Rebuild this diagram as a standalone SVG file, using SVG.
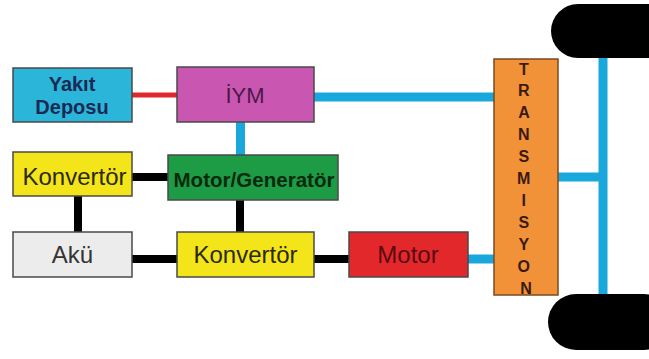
<svg xmlns="http://www.w3.org/2000/svg" width="649" height="359" viewBox="0 0 649 359">
<style>
.box{stroke:#4a4a4a;stroke-width:1.5}
.t{font-family:"Liberation Sans",Arial,sans-serif;text-anchor:middle}
.b{font-weight:bold}
.blue{stroke:#1aa8dc;stroke-width:9;fill:none}
.blk{stroke:#000;stroke-width:8;fill:none}
.red{stroke:#e0282c;stroke-width:5;fill:none}
</style>
<rect width="649" height="359" fill="#fff"/>
<g id="connectors">
<line class="red" x1="132" y1="95" x2="177" y2="95"/>
<line class="blue" x1="314" y1="97" x2="494" y2="97"/>
<line class="blue" x1="240.5" y1="122" x2="240.5" y2="155"/>
<line class="blk" x1="132" y1="177" x2="168" y2="177"/>
<line class="blk" x1="78" y1="196" x2="78" y2="232"/>
<line class="blk" x1="240" y1="200" x2="240" y2="232"/>
<line class="blk" x1="132" y1="259" x2="177" y2="259"/>
<line class="blk" x1="314" y1="259" x2="349" y2="259"/>
<line class="blue" x1="468" y1="259" x2="494" y2="259"/>
<line class="blue" x1="558" y1="177" x2="603" y2="177"/>
<line class="blue" x1="603" y1="56" x2="603" y2="296"/>
</g>
<g id="wheel-top"><rect x="551" y="4" width="124" height="54" rx="27" fill="#000"/></g>
<g id="wheel-bottom"><rect x="548" y="294" width="124" height="56" rx="28" fill="#000"/></g>
<g id="yakit-deposu">
<rect class="box" x="13" y="68" width="119" height="54" fill="#2bb5d8"/>
<text class="t b" x="72" y="91" font-size="20" fill="#1a2a55">Yakıt</text>
<text class="t b" x="72" y="114" font-size="20" fill="#1a2a55">Deposu</text>
</g>
<g id="iym">
<rect class="box" x="177" y="67" width="137" height="55" fill="#c957b2"/>
<text class="t" x="245" y="103" font-size="22" fill="#4a1848">İYM</text>
</g>
<g id="konvertor-top">
<rect class="box" x="13" y="152" width="119" height="44" fill="#f4e41a"/>
<text class="t" x="74.5" y="185" font-size="24" fill="#2a2a10">Konvertör</text>
</g>
<g id="motor-generator">
<rect class="box" x="168" y="155" width="170" height="45" fill="#1e9b45"/>
<text class="t b" x="254" y="187" font-size="21" fill="#0a2a10" textLength="161" lengthAdjust="spacingAndGlyphs">Motor/Generatör</text>
</g>
<g id="aku">
<rect class="box" x="13" y="232" width="119" height="45" fill="#ececec"/>
<text class="t" x="72.5" y="263" font-size="24" fill="#333">Akü</text>
</g>
<g id="konvertor-bottom">
<rect class="box" x="177" y="232" width="137" height="45" fill="#f4e41a"/>
<text class="t" x="245.5" y="263" font-size="24" fill="#2a2a10">Konvertör</text>
</g>
<g id="motor">
<rect class="box" x="349" y="232" width="119" height="45" fill="#e3282c"/>
<text class="t" x="408" y="263" font-size="24" fill="#5a0a10">Motor</text>
</g>
<g id="transmisyon">
<rect x="494" y="59" width="64" height="236" fill="#f19238" stroke="#7a4a20" stroke-width="1.5"/>
<text class="t b" font-size="16" fill="#3a1a10">
<tspan x="526" y="74.5">T</tspan>
<tspan x="526" y="96.4">R</tspan>
<tspan x="526" y="118.3">A</tspan>
<tspan x="526" y="140.2">N</tspan>
<tspan x="526" y="162.1">S</tspan>
<tspan x="526" y="184">M</tspan>
<tspan x="526" y="205.9">I</tspan>
<tspan x="526" y="227.8">S</tspan>
<tspan x="526" y="249.7">Y</tspan>
<tspan x="526" y="271.6">O</tspan>
<tspan x="526" y="293.5">N</tspan>
</text>
</g>
</svg>
